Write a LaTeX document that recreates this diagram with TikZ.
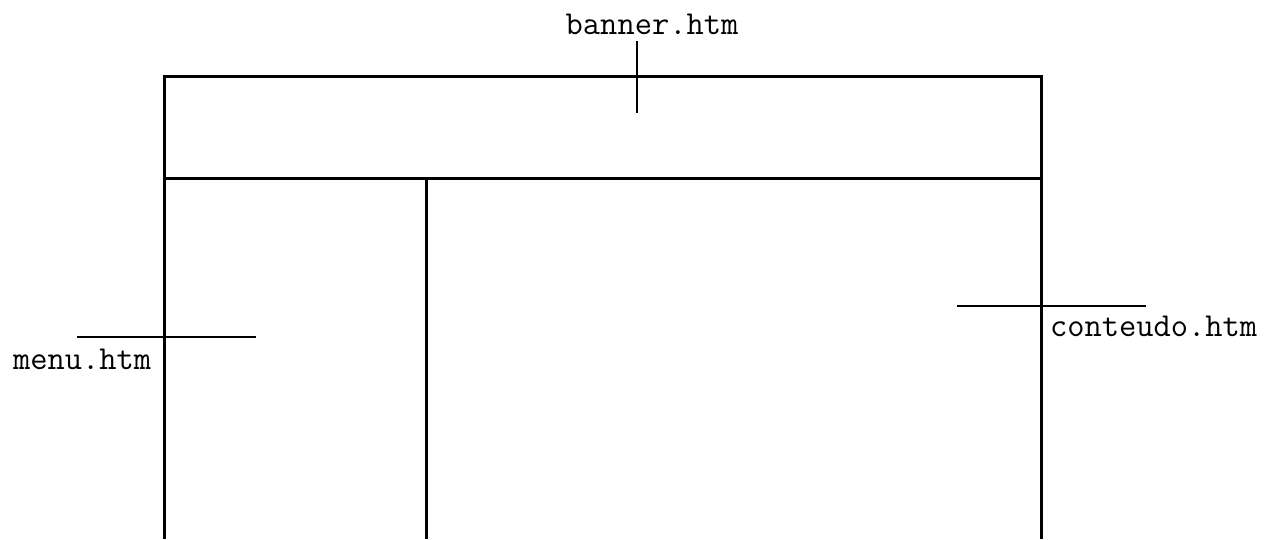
\documentclass[tikz,border=0pt]{standalone}
\usetikzlibrary{positioning}

\begin{document}
\begin{tikzpicture}[
  x=1pt, y=-1pt,
  frame/.style={line width=3pt},
  leader/.style={line width=1.8pt},
  lbl/.style={inner sep=0pt, anchor=base, font=\ttfamily\fontsize{33.5}{34}\selectfont}
]
  \useasboundingbox (0,0) rectangle (1267,539);

  % frameset outline
  \draw[frame] (164,539) -- (164,76) -- (1041,76) -- (1041,539);
  \draw[frame] (164,178) -- (1041,178);
  \draw[frame] (426,178) -- (426,539);

  % labels
  \node[lbl] (banner) at (652,34) {banner.htm};
  \node[lbl, anchor=base west] (menu) at (13,369) {menu.htm};
  \node[lbl, anchor=base west] (conteudo) at (1050,336) {conteudo.htm};

  \coordinate (bannerA) at (637,41);
  \coordinate (bannerB) at (637,113);
  \coordinate (menuA) at (77,337);
  \coordinate (menuB) at (256,337);
  \coordinate (conteudoA) at (957,306);
  \coordinate (conteudoB) at (1146,306);

  \draw[leader] (bannerA) -- (bannerB);
  \draw[leader] (menuA) -- (menuB);
  \draw[leader] (conteudoA) -- (conteudoB);
\end{tikzpicture}
\end{document}
